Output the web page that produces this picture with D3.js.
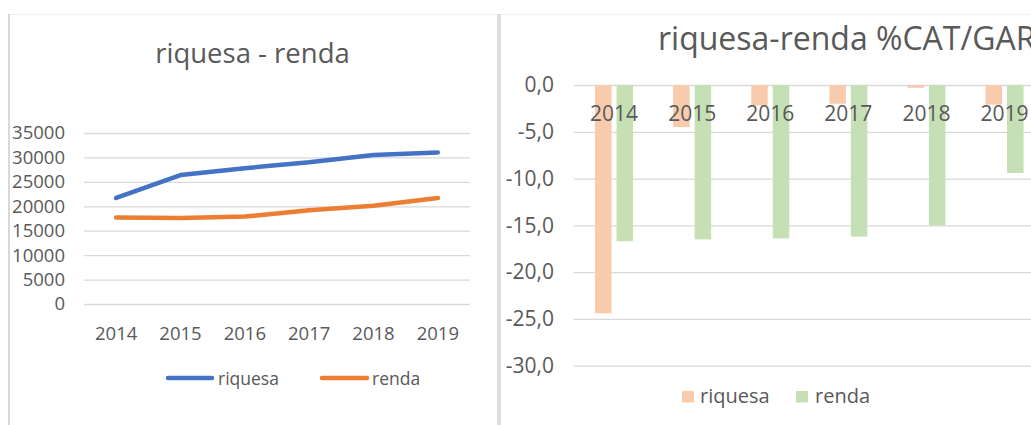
<!DOCTYPE html>
<html>
<head>
<meta charset="utf-8">
<script src="https://cdn.jsdelivr.net/npm/d3@7/dist/d3.min.js"></script>
<style>
  html, body { margin: 0; padding: 0; background: #ffffff; }
  svg { display: block; }
  text { font-family: "Open Sans", "Noto Sans", sans-serif; fill: #595959; }
</style>
</head>
<body>
<svg id="chart" width="1031" height="425"></svg>
<script>
// ---- data ----
const years = ["2014", "2015", "2016", "2017", "2018", "2019"];
const riquesaAbs = [21700, 26400, 27800, 29000, 30500, 31000];
const rendaAbs = [17700, 17600, 17900, 19200, 20100, 21700];
const riquesaPct = [-24.4, -4.5, -2.2, -2.0, -0.3, -2.1];
const rendaPct = [-16.7, -16.5, -16.4, -16.2, -15.0, -9.4];
const leftTicks = [0, 5000, 10000, 15000, 20000, 25000, 30000, 35000];
const rightTicks = [0, -5, -10, -15, -20, -25, -30];
const rightTickLabels = ["0,0", "-5,0", "-10,0", "-15,0", "-20,0", "-25,0", "-30,0"];
const seriesNames = ["riquesa", "renda"];
const leftTitle = "riquesa - renda";
const rightTitle = "riquesa-renda %CAT/GAR";

const svg = d3.select("#chart");
const grid = "#d9d9d9";
const blue = "#4472c4", orange = "#ed7d31";
const peach = "#f8cbad", green = "#c5e0b4";

// ---- panel frames ----
svg.append("line").attr("x1", 8).attr("x2", 1031).attr("y1", 14.5).attr("y2", 14.5)
  .attr("stroke", "#f0f0f0").attr("stroke-width", 1);
svg.append("rect").attr("x", 8).attr("y", 14).attr("width", 2).attr("height", 411).attr("fill", "#d9d9d9");
svg.append("rect").attr("x", 497).attr("y", 14).attr("width", 4).attr("height", 411).attr("fill", "#dedede");

// ================= LEFT: line chart =================
const L = svg.append("g");
const xL = d3.scaleBand().domain(years).range([84, 470]);
const yL = d3.scaleLinear().domain([0, 35000]).range([304, 133]);

const yAxisL = L.append("g").attr("transform", "translate(84,0)")
  .call(d3.axisLeft(yL).tickValues(leftTicks).tickSize(-386).tickPadding(19).tickFormat(d3.format("d")));
yAxisL.select(".domain").remove();
yAxisL.selectAll(".tick line").attr("stroke", grid).attr("stroke-width", 1.3);
yAxisL.selectAll(".tick text").attr("font-size", "18.5px").attr("font-family", "Open Sans");

const xAxisL = L.append("g").attr("transform", "translate(0,304)")
  .call(d3.axisBottom(xL).tickSize(0).tickPadding(23));
xAxisL.select(".domain").remove();
xAxisL.selectAll(".tick text").attr("font-size", "18.5px").attr("font-family", "Open Sans");

const lineGen = d3.line().x((d, i) => xL(years[i]) + xL.bandwidth() / 2).y(d => yL(d));
L.append("path").datum(riquesaAbs).attr("d", lineGen).attr("fill", "none")
  .attr("stroke", blue).attr("stroke-width", 4.5).attr("stroke-linecap", "round").attr("stroke-linejoin", "round");
L.append("path").datum(rendaAbs).attr("d", lineGen).attr("fill", "none")
  .attr("stroke", orange).attr("stroke-width", 4.5).attr("stroke-linecap", "round").attr("stroke-linejoin", "round");

L.append("text").attr("x", 252.5).attr("y", 63).attr("text-anchor", "middle")
  .attr("font-size", "27.5px").text(leftTitle);

// legend left
const legL = [{x1: 168, x2: 212, tx: 218, c: blue}, {x1: 322, x2: 367, tx: 372, c: orange}];
legL.forEach((d, i) => {
  L.append("line").attr("x1", d.x1).attr("x2", d.x2).attr("y1", 378).attr("y2", 378)
    .attr("stroke", d.c).attr("stroke-width", 4.5).attr("stroke-linecap", "round");
  L.append("text").attr("x", d.tx).attr("y", 385).attr("font-size", "17.5px").text(seriesNames[i]);
});

// ================= RIGHT: bar chart =================
const R = svg.append("g");
const xR = d3.scaleBand().domain(years).range([575, 1043.6]);
const yR = d3.scaleLinear().domain([-30, 0]).range([365.7, 85]);
const xSub = d3.scaleBand().domain(seriesNames).range([-19, 19]).paddingInner(0.233);

const yAxisR = R.append("g").attr("transform", "translate(574,0)")
  .call(d3.axisLeft(yR).tickValues(rightTicks).tickSize(-470).tickPadding(20)
    .tickFormat((d, i) => rightTickLabels[i]));
yAxisR.select(".domain").remove();
yAxisR.selectAll(".tick line").attr("stroke", grid).attr("stroke-width", 1.3);
yAxisR.selectAll(".tick text").attr("font-size", "21px").attr("font-family", "Open Sans");

const barData = [];
years.forEach((yr, i) => {
  barData.push({year: yr, s: "riquesa", v: riquesaPct[i], c: peach});
  barData.push({year: yr, s: "renda", v: rendaPct[i], c: green});
});
R.append("g").selectAll("rect").data(barData).join("rect")
  .attr("x", d => xR(d.year) + xR.bandwidth() / 2 + xSub(d.s))
  .attr("width", xSub.bandwidth())
  .attr("y", d => yR(0))
  .attr("height", d => yR(d.v) - yR(0))
  .attr("fill", d => d.c);

const xAxisR = R.append("g").attr("transform", "translate(0," + yR(0) + ")")
  .call(d3.axisBottom(xR).tickSize(0).tickPadding(21));
xAxisR.select(".domain").remove();
xAxisR.selectAll(".tick text").attr("font-size", "21px").attr("font-family", "Open Sans");

R.append("text").attr("x", 658).attr("y", 50).attr("font-size", "32px").text(rightTitle);

// legend right
const legR = [{rx: 682, tx: 700, c: peach}, {rx: 796, tx: 815, c: green}];
legR.forEach((d, i) => {
  R.append("rect").attr("x", d.rx).attr("y", 391).attr("width", 12).attr("height", 11.5).attr("fill", d.c);
  R.append("text").attr("x", d.tx).attr("y", 403).attr("font-size", "20px").text(seriesNames[i]);
});
</script>
</body>
</html>
